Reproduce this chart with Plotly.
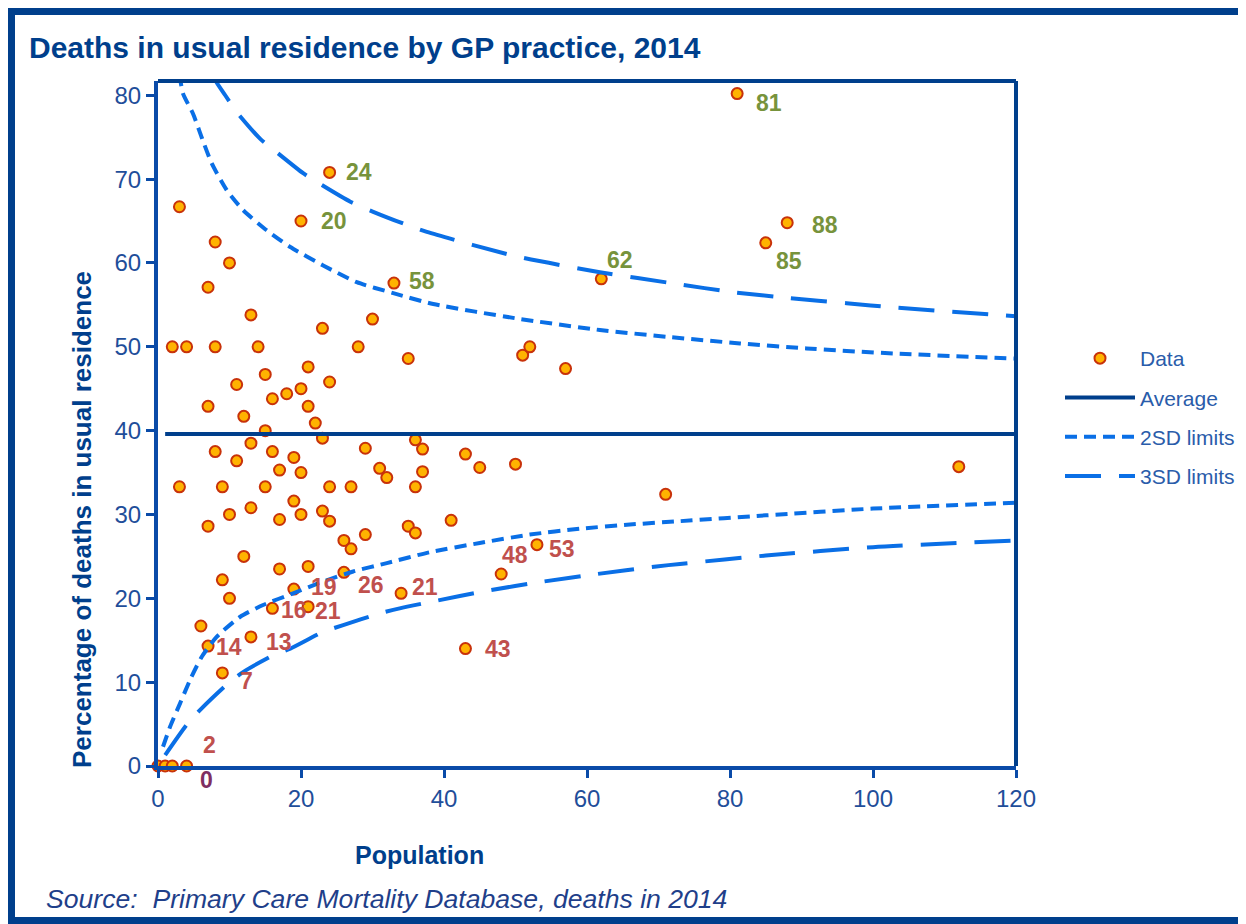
import plotly.graph_objects as go

# ---------------- data ----------------
pop = [0, 1, 2, 4, 2, 3, 3, 4, 6,
       7, 7, 7, 7, 8, 8, 8, 9, 9, 9, 10, 10, 10, 11, 11, 12, 12,
       13, 13, 13, 13, 14, 15, 15, 15, 16, 16, 16, 17, 17, 17, 18,
       19, 19, 19, 20, 20, 20, 20, 21, 21, 21, 21, 22, 23, 23, 23,
       24, 24, 24, 24, 26, 26, 27, 27, 28, 29, 29, 30, 31, 32, 33, 34,
       35, 35, 36, 36, 36, 37, 37, 41, 43, 43, 45, 48, 50, 51, 52, 53,
       57, 62, 71, 81, 85, 88, 112]
pct = [0, 0, 0, 0, 50, 66.7, 33.3, 50, 16.7,
       57.1, 42.9, 28.6, 14.3, 62.5, 50, 37.5, 33.3, 22.2, 11.1, 60, 30, 20, 45.5, 36.4, 41.7, 25,
       53.8, 38.5, 30.8, 15.4, 50, 46.7, 40, 33.3, 43.8, 37.5, 18.8, 35.3, 29.4, 23.5, 44.4,
       36.8, 31.6, 21.1, 65, 45, 35, 30, 47.6, 42.9, 23.8, 19.0, 40.9, 52.2, 39.1, 30.4,
       70.8, 45.8, 33.3, 29.2, 26.9, 23.1, 33.3, 25.9, 50, 37.9, 27.6, 53.3, 35.5, 34.4, 57.6, 20.6,
       48.6, 28.6, 38.9, 33.3, 27.8, 37.8, 35.1, 29.3, 37.2, 14.0, 35.6, 22.9, 36.0, 49.0, 50.0, 26.4,
       47.4, 58.1, 32.4, 80.2, 62.4, 64.8, 35.7]

avg_x = [1, 120]
avg_y = [39.6, 39.6]

upper2_x = [3.0, 3.5, 4.9, 6.1, 7.5, 9.6, 11.9, 15.2, 18.5, 23.1, 27.8, 32.9, 38.5, 50, 61.8, 71.1, 81.4, 90.7, 102.8, 120]
upper2_y = [82.5, 80.2, 77.8, 75.0, 71.9, 68.7, 66.3, 63.9, 61.9, 59.7, 57.7, 56.4, 55.1, 53.4, 52.0, 51.2, 50.4, 49.8, 49.2, 48.6]
lower2_x = [0.7, 1.7, 3.1, 4.5, 6.1, 8.2, 11.5, 14.7, 18.9, 23.1, 27.3, 32.0, 38.0, 45.0, 52.0, 59.0, 66.0, 73.0, 85, 100, 120]
lower2_y = [2.3, 4.7, 7.5, 10.3, 13.0, 15.4, 17.8, 19.2, 20.6, 22.0, 23.2, 24.2, 25.5, 26.6, 27.6, 28.3, 28.8, 29.2, 29.9, 30.7, 31.4]
upper3_x = [7.5, 8.0, 9.4, 11.0, 14.3, 16.6, 20.3, 22.9, 26.9, 30.1, 34.3, 37.6, 50, 61.8, 72.5, 80.5, 88.4, 96.3, 102.8, 120]
upper3_y = [83.0, 81.8, 80.0, 78.0, 74.8, 73.2, 70.7, 69.3, 67.3, 66.1, 64.7, 63.7, 60.8, 58.9, 57.5, 56.5, 55.8, 55.2, 54.7, 53.65]
lower3_x = [1.0, 4.0, 5.9, 9.6, 11.9, 16.1, 18.5, 23.1, 25.9, 31.0, 33.8, 38.3, 46.0, 53.9, 61.4, 69.7, 73.0, 85, 100, 120]
lower3_y = [1.3, 4.9, 6.7, 9.7, 11.2, 13.2, 14.0, 16.0, 16.8, 18.2, 18.8, 19.6, 20.9, 22.0, 22.9, 23.8, 24.1, 25.1, 26.1, 26.9]

# labelled points: (population, percentage, label text, group)
label_pop = [24, 20, 33, 62, 81, 88, 85, 19, 16, 21, 26, 34, 7, 13, 9, 2, 48, 53, 43, 4]
label_pct = [70.8, 65, 57.6, 58.1, 80.2, 64.8, 62.4, 21.1, 18.8, 19.0, 23.1, 20.6, 14.3, 15.4, 11.1, 0, 22.9, 26.4, 14.0, 0]
label_txt = ["24", "20", "58", "62", "81", "88", "85", "19", "16", "21", "26", "21", "14", "13", "7", "2", "48", "53", "43", "0"]
label_grp = ["hi"] * 7 + ["lo"] * 12 + ["zero"]

# ---------------- styles ----------------
label_shift = [(29, 0), (33, 0), (28, -2), (19, -19), (32, 9), (38, 2), (23, 18),
               (30, -2), (22, 2), (20, 4), (27, 13), (24, -6), (21, 1), (28, 5), (24, 8),
               (37, -21), (14, -19), (25, 4), (33, 0), (20, 14)]
grp_color = {"hi": "#77933C", "lo": "#C0504D", "zero": "#7F2F62"}

NAVY = "#003F8C"
AXIS = "#0A4BA8"
TICK = "#1F4E9A"
DASHBLUE = "#0A6FE6"
FONT = "Liberation Sans, Arial, sans-serif"

OFF = 8                      # page body margin
L, R, T, B = 150, 230, 73, 158
W, H = 1238, 916
PW, PH = W - L - R, H - T - B


def px(p):
    return (p - OFF - L) / PW


def py(p):
    return (H - B - (p - OFF)) / PH


fig = go.Figure()
fig.add_trace(go.Scatter(x=pop, y=pct, mode="markers", name="Data",
                         marker=dict(size=11, color="#FFB300", line=dict(color="#C8320A", width=2)),
                         cliponaxis=False, legendgroup="a"))
fig.add_trace(go.Scatter(x=avg_x, y=avg_y, mode="lines", name="Average",
                         line=dict(color=NAVY, width=4), legendgroup="b"))
fig.add_trace(go.Scatter(x=upper2_x, y=upper2_y, mode="lines", name="2SD limits",
                         line=dict(color=DASHBLUE, width=4, dash="12px,7px", shape="spline", smoothing=0.6),
                         legendgroup="c"))
fig.add_trace(go.Scatter(x=lower2_x, y=lower2_y, mode="lines", name="2SD limits", showlegend=False,
                         line=dict(color=DASHBLUE, width=4, dash="12px,7px", shape="spline", smoothing=0.6),
                         legendgroup="c"))
fig.add_trace(go.Scatter(x=upper3_x, y=upper3_y, mode="lines", name="3SD limits",
                         line=dict(color=DASHBLUE, width=4, dash="36px,18px", shape="spline", smoothing=0.6),
                         legendgroup="d"))
fig.add_trace(go.Scatter(x=lower3_x, y=lower3_y, mode="lines", name="3SD limits", showlegend=False,
                         line=dict(color=DASHBLUE, width=4, dash="36px,18px", shape="spline", smoothing=0.6),
                         legendgroup="d"))

annotations = []
for xv, yv, t, g, (dx, dy) in zip(label_pop, label_pct, label_txt, label_grp, label_shift):
    annotations.append(dict(x=xv, y=yv, xref="x", yref="y", text="<b>" + t + "</b>", showarrow=False,
                            xshift=dx, yshift=-dy,
                            font=dict(family=FONT, size=23, color=grp_color[g])))

annotations += [
    dict(x=px(27), y=py(47), xref="paper", yref="paper", xanchor="left", yanchor="middle",
         text="<b>Deaths in usual residence by GP practice, 2014</b>", showarrow=False,
         font=dict(family=FONT, size=30, color=NAVY)),
    dict(x=px(82), y=py(520), xref="paper", yref="paper", xanchor="center", yanchor="middle",
         text="<b>Percentage of deaths in usual residence</b>", textangle=-90, showarrow=False,
         font=dict(family=FONT, size=26, color=NAVY)),
    dict(x=px(419), y=py(855), xref="paper", yref="paper", xanchor="center", yanchor="middle",
         text="<b>Population</b>", showarrow=False,
         font=dict(family=FONT, size=25, color=NAVY)),
    dict(x=px(44), y=py(899), xref="paper", yref="paper", xanchor="left", yanchor="middle",
         text="<i>Source:  Primary Care Mortality Database, deaths in 2014</i>", showarrow=False,
         font=dict(family=FONT, size=26.6, color="#1F3F8A")),
]

shapes = [
    dict(type="line", xref="paper", yref="paper", x0=0, x1=1, y0=1, y1=1,
         line=dict(color=NAVY, width=4)),
    dict(type="line", xref="paper", yref="paper", x0=1, x1=1, y0=0, y1=1,
         line=dict(color=NAVY, width=4)),
    dict(type="rect", xref="paper", yref="paper", x0=px(11), x1=px(1270), y0=py(921), y1=py(11),
         line=dict(color=NAVY, width=8), fillcolor="rgba(0,0,0,0)", layer="above"),
]

axis_common = dict(showgrid=False, zeroline=False, showline=True, linewidth=4, linecolor=AXIS,
                   ticks="outside", ticklen=8, tickwidth=3, tickcolor=AXIS,
                   tickfont=dict(family=FONT, size=24, color=TICK))

fig.update_layout(
    width=W, height=H, autosize=False,
    margin=dict(l=L, r=R, t=T, b=B, pad=0, autoexpand=False),
    paper_bgcolor="white", plot_bgcolor="white",
    xaxis=dict(range=[0, 120], tickvals=[0, 20, 40, 60, 80, 100, 120], **axis_common),
    yaxis=dict(range=[0, 81.7], tickvals=[0, 10, 20, 30, 40, 50, 60, 70, 80], **axis_common),
    legend=dict(x=px(1060), y=py(338), xanchor="left", yanchor="top",
                font=dict(family=FONT, size=21, color="#2A5CAA"),
                itemwidth=70, tracegroupgap=9, bgcolor="rgba(0,0,0,0)"),
    annotations=annotations, shapes=shapes,
    showlegend=True,
)

fig.write_html("out.html")
